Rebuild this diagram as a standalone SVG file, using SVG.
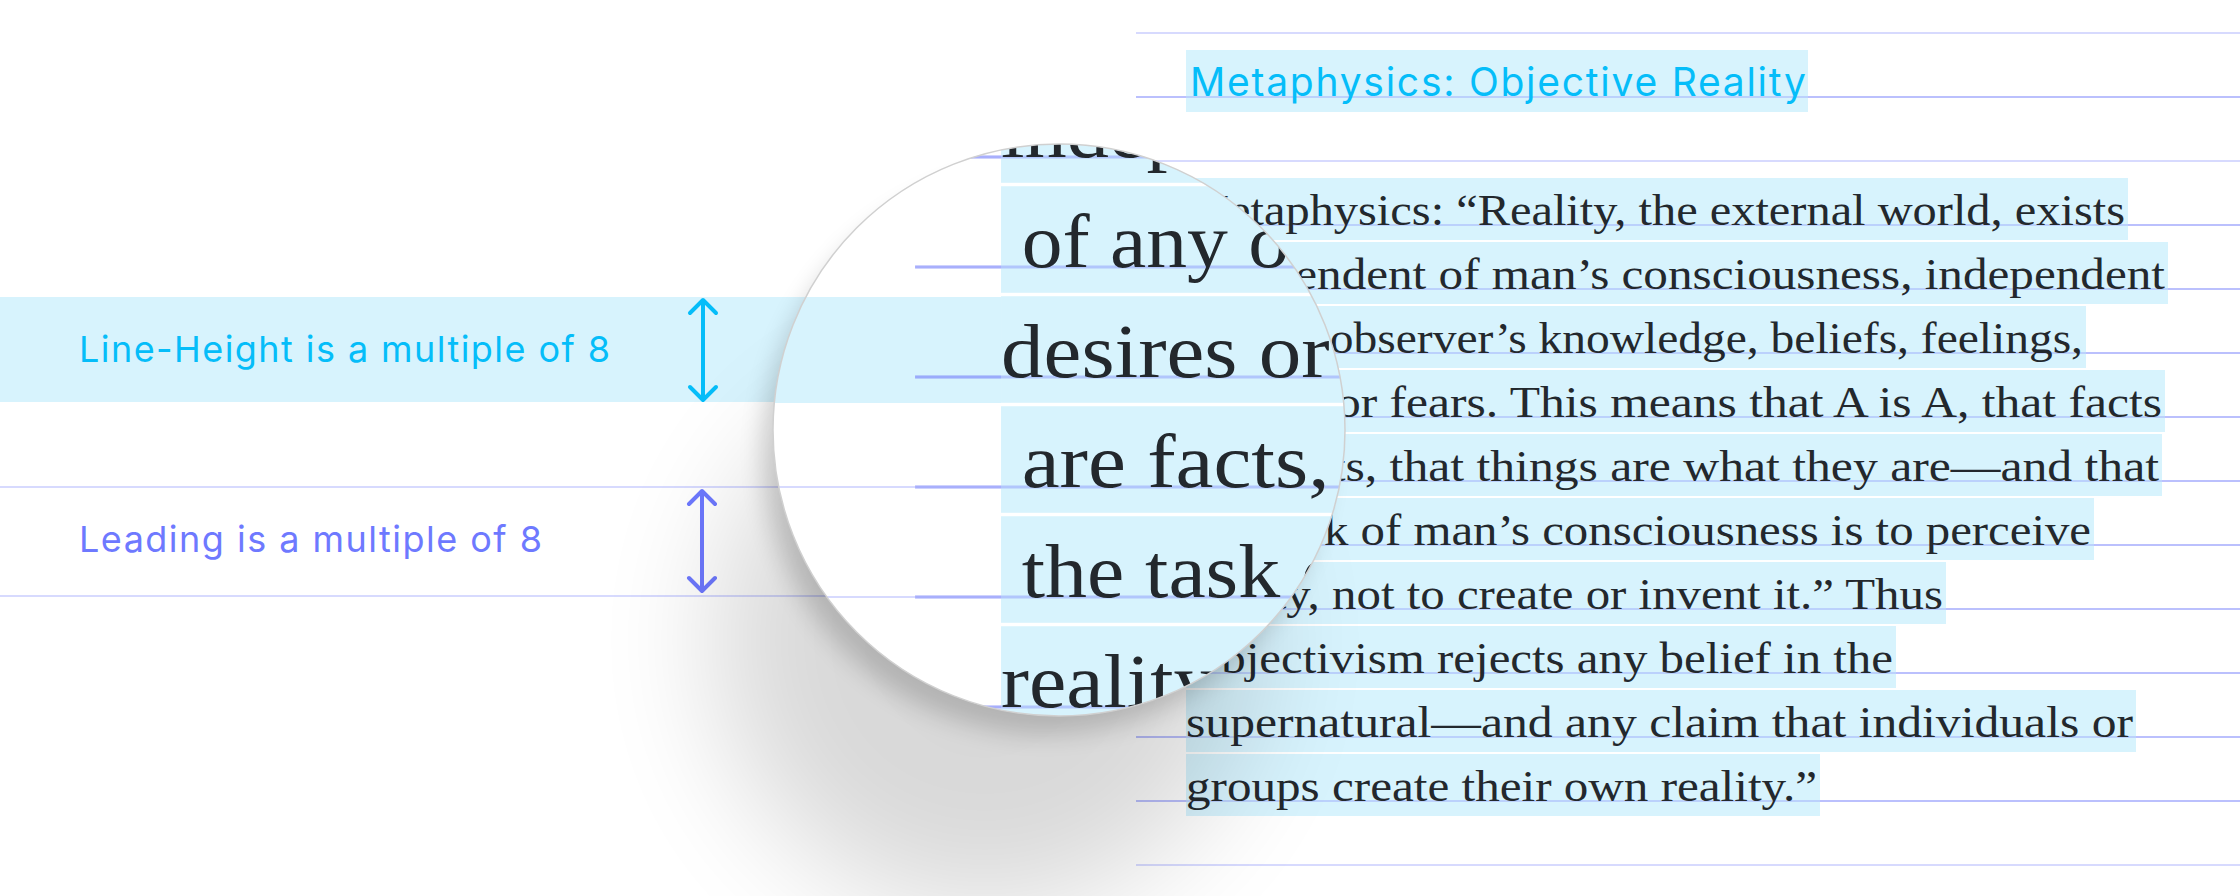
<svg xmlns="http://www.w3.org/2000/svg" xmlns:xlink="http://www.w3.org/1999/xlink" width="2240" height="896" viewBox="0 0 2240 896">
  <style>
    .guide { stroke: #7882FA; stroke-opacity: 0.4; stroke-width: 1.7; fill: none; }
    .hl { fill: #D7F3FD; }
    .body { font-family: "Liberation Serif", "Times New Roman", serif; font-size: 44px; fill: #23282D; }
    .sans { font-family: Inter, "Noto Sans", "Liberation Sans", sans-serif; }
    .cyan { fill: #05BDF9; }
    .purple { fill: #6E79FF; }
    .arrow-cyan { stroke: #05BDF9; stroke-width: 4; fill: none; stroke-linecap: round; stroke-linejoin: round; }
    .arrow-purple { stroke: #6E79FF; stroke-width: 4; fill: none; stroke-linecap: round; stroke-linejoin: round; }
  </style>
  <defs>
    <clipPath id="lens">
      <circle cx="1059" cy="430" r="286"/>
    </clipPath>
    <filter id="blurWide" x="-60%" y="-60%" width="220%" height="220%">
      <feGaussianBlur stdDeviation="60"/>
    </filter>
    <filter id="blurTight" x="-20%" y="-20%" width="140%" height="140%">
      <feGaussianBlur stdDeviation="12"/>
    </filter>
    <g id="page">
      <g id="guides-right">
        <line class="guide" x1="1136" y1="33" x2="2240" y2="33"/>
        <line class="guide" x1="1136" y1="97" x2="2240" y2="97"/>
        <line class="guide" x1="1136" y1="161" x2="2240" y2="161"/>
        <line class="guide" x1="1136" y1="225" x2="2240" y2="225"/>
        <line class="guide" x1="1136" y1="289" x2="2240" y2="289"/>
        <line class="guide" x1="1136" y1="353" x2="2240" y2="353"/>
        <line class="guide" x1="1136" y1="417" x2="2240" y2="417"/>
        <line class="guide" x1="1136" y1="481" x2="2240" y2="481"/>
        <line class="guide" x1="1136" y1="545" x2="2240" y2="545"/>
        <line class="guide" x1="1136" y1="609" x2="2240" y2="609"/>
        <line class="guide" x1="1136" y1="673" x2="2240" y2="673"/>
        <line class="guide" x1="1136" y1="737" x2="2240" y2="737"/>
        <line class="guide" x1="1136" y1="801" x2="2240" y2="801"/>
        <line class="guide" x1="1136" y1="865" x2="2240" y2="865"/>
      </g>
      <g id="boxes">
        <rect class="hl" x="1186" y="50" width="622" height="62"/>
        <rect class="hl" x="1186" y="178" width="942" height="62"/>
        <rect class="hl" x="1186" y="242" width="982" height="62"/>
        <rect class="hl" x="1186" y="306" width="900" height="62"/>
        <rect class="hl" x="1186" y="370" width="979" height="62"/>
        <rect class="hl" x="1186" y="434" width="976" height="62"/>
        <rect class="hl" x="1186" y="498" width="908" height="62"/>
        <rect class="hl" x="1186" y="562" width="760" height="62"/>
        <rect class="hl" x="1186" y="626" width="710" height="62"/>
        <rect class="hl" x="1186" y="690" width="950" height="62"/>
        <rect class="hl" x="1186" y="754" width="634" height="62"/>
      </g>
      <g id="guides-over">
        <line class="guide" x1="1136" y1="97" x2="2240" y2="97"/>
        <line class="guide" x1="1136" y1="225" x2="2240" y2="225"/>
        <line class="guide" x1="1136" y1="289" x2="2240" y2="289"/>
        <line class="guide" x1="1136" y1="353" x2="2240" y2="353"/>
        <line class="guide" x1="1136" y1="417" x2="2240" y2="417"/>
        <line class="guide" x1="1136" y1="481" x2="2240" y2="481"/>
        <line class="guide" x1="1136" y1="545" x2="2240" y2="545"/>
        <line class="guide" x1="1136" y1="609" x2="2240" y2="609"/>
        <line class="guide" x1="1136" y1="673" x2="2240" y2="673"/>
        <line class="guide" x1="1136" y1="737" x2="2240" y2="737"/>
        <line class="guide" x1="1136" y1="801" x2="2240" y2="801"/>
      </g>
      <text class="sans cyan" x="1190" y="96" font-size="39" textLength="616" lengthAdjust="spacing">Metaphysics: Objective Reality</text>
      <g class="body">
        <text x="1186" y="225" textLength="939" lengthAdjust="spacingAndGlyphs">Metaphysics: “Reality, the external world, exists</text>
        <text x="1186" y="289" textLength="979" lengthAdjust="spacingAndGlyphs">independent of man’s consciousness, independent</text>
        <text x="1198" y="353" textLength="885" lengthAdjust="spacingAndGlyphs">of any observer’s knowledge, beliefs, feelings,</text>
        <text x="1186" y="417" textLength="976" lengthAdjust="spacingAndGlyphs">desires or fears. This means that A is A, that facts</text>
        <text x="1198" y="481" textLength="961" lengthAdjust="spacingAndGlyphs">are facts, that things are what they are—and that</text>
        <text x="1198" y="545" textLength="893" lengthAdjust="spacingAndGlyphs">the task of man’s consciousness is to perceive</text>
        <text x="1186" y="609" textLength="757" lengthAdjust="spacingAndGlyphs">reality, not to create or invent it.” Thus</text>
        <text x="1186" y="673" textLength="707" lengthAdjust="spacingAndGlyphs">Objectivism rejects any belief in the</text>
        <text x="1186" y="737" textLength="947" lengthAdjust="spacingAndGlyphs">supernatural—and any claim that individuals or</text>
        <text x="1186" y="801" textLength="631" lengthAdjust="spacingAndGlyphs">groups create their own reality.”</text>
      </g>
    </g>
  </defs>

  <rect x="0" y="0" width="2240" height="896" fill="#FFFFFF"/>

  <!-- left band and guides -->
  <rect class="hl" x="0" y="297" width="1001" height="105"/>
  <line class="guide" x1="0" y1="487" x2="1136" y2="487"/>
  <line class="guide" x1="0" y1="596" x2="1136" y2="596"/>

  <!-- text page -->
  <g id="text-page">
    <use href="#page"/>
  </g>

  <g id="label-line-height">
    <text class="sans cyan" x="79" y="362" font-size="36" textLength="531" lengthAdjust="spacing">Line-Height is a multiple of 8</text>
  </g>
  <g id="label-leading">
    <text class="sans purple" x="79" y="552" font-size="36" textLength="463" lengthAdjust="spacing">Leading is a multiple of 8</text>
  </g>

  <g id="connectors">
    <path class="arrow-cyan" d="M703,301 V399 M690,313 L703,300 L716,313 M690,387 L703,400 L716,387"/>
    <path class="arrow-purple" d="M702,492 V590 M689,504 L702,491 L715,504 M689,578 L702,591 L715,578"/>
  </g>

  <!-- lens shadow -->
  <g id="lens-shadow">
    <circle cx="985" cy="640" r="270" fill="#000" opacity="0.15" filter="url(#blurWide)"/>
    <circle cx="1045" cy="452" r="282" fill="#000" opacity="0.17" filter="url(#blurTight)"/>
  </g>

  <!-- magnifier -->
  <g id="magnifier">
    <g clip-path="url(#lens)">
      <rect x="760" y="130" width="600" height="600" fill="#FFFFFF"/>
      <rect class="hl" x="700" y="297" width="301" height="106"/>
      <line class="guide" x1="700" y1="487" x2="915" y2="487"/>
      <line class="guide" x1="700" y1="597" x2="915" y2="597"/>
      <use href="#page" transform="matrix(1.71875 0 0 1.71875 -1037.4 -339.7)"/>
    </g>
    <circle cx="1059" cy="430" r="286" fill="none" stroke="#D0D0D0" stroke-width="1.5"/>
  </g>
</svg>
